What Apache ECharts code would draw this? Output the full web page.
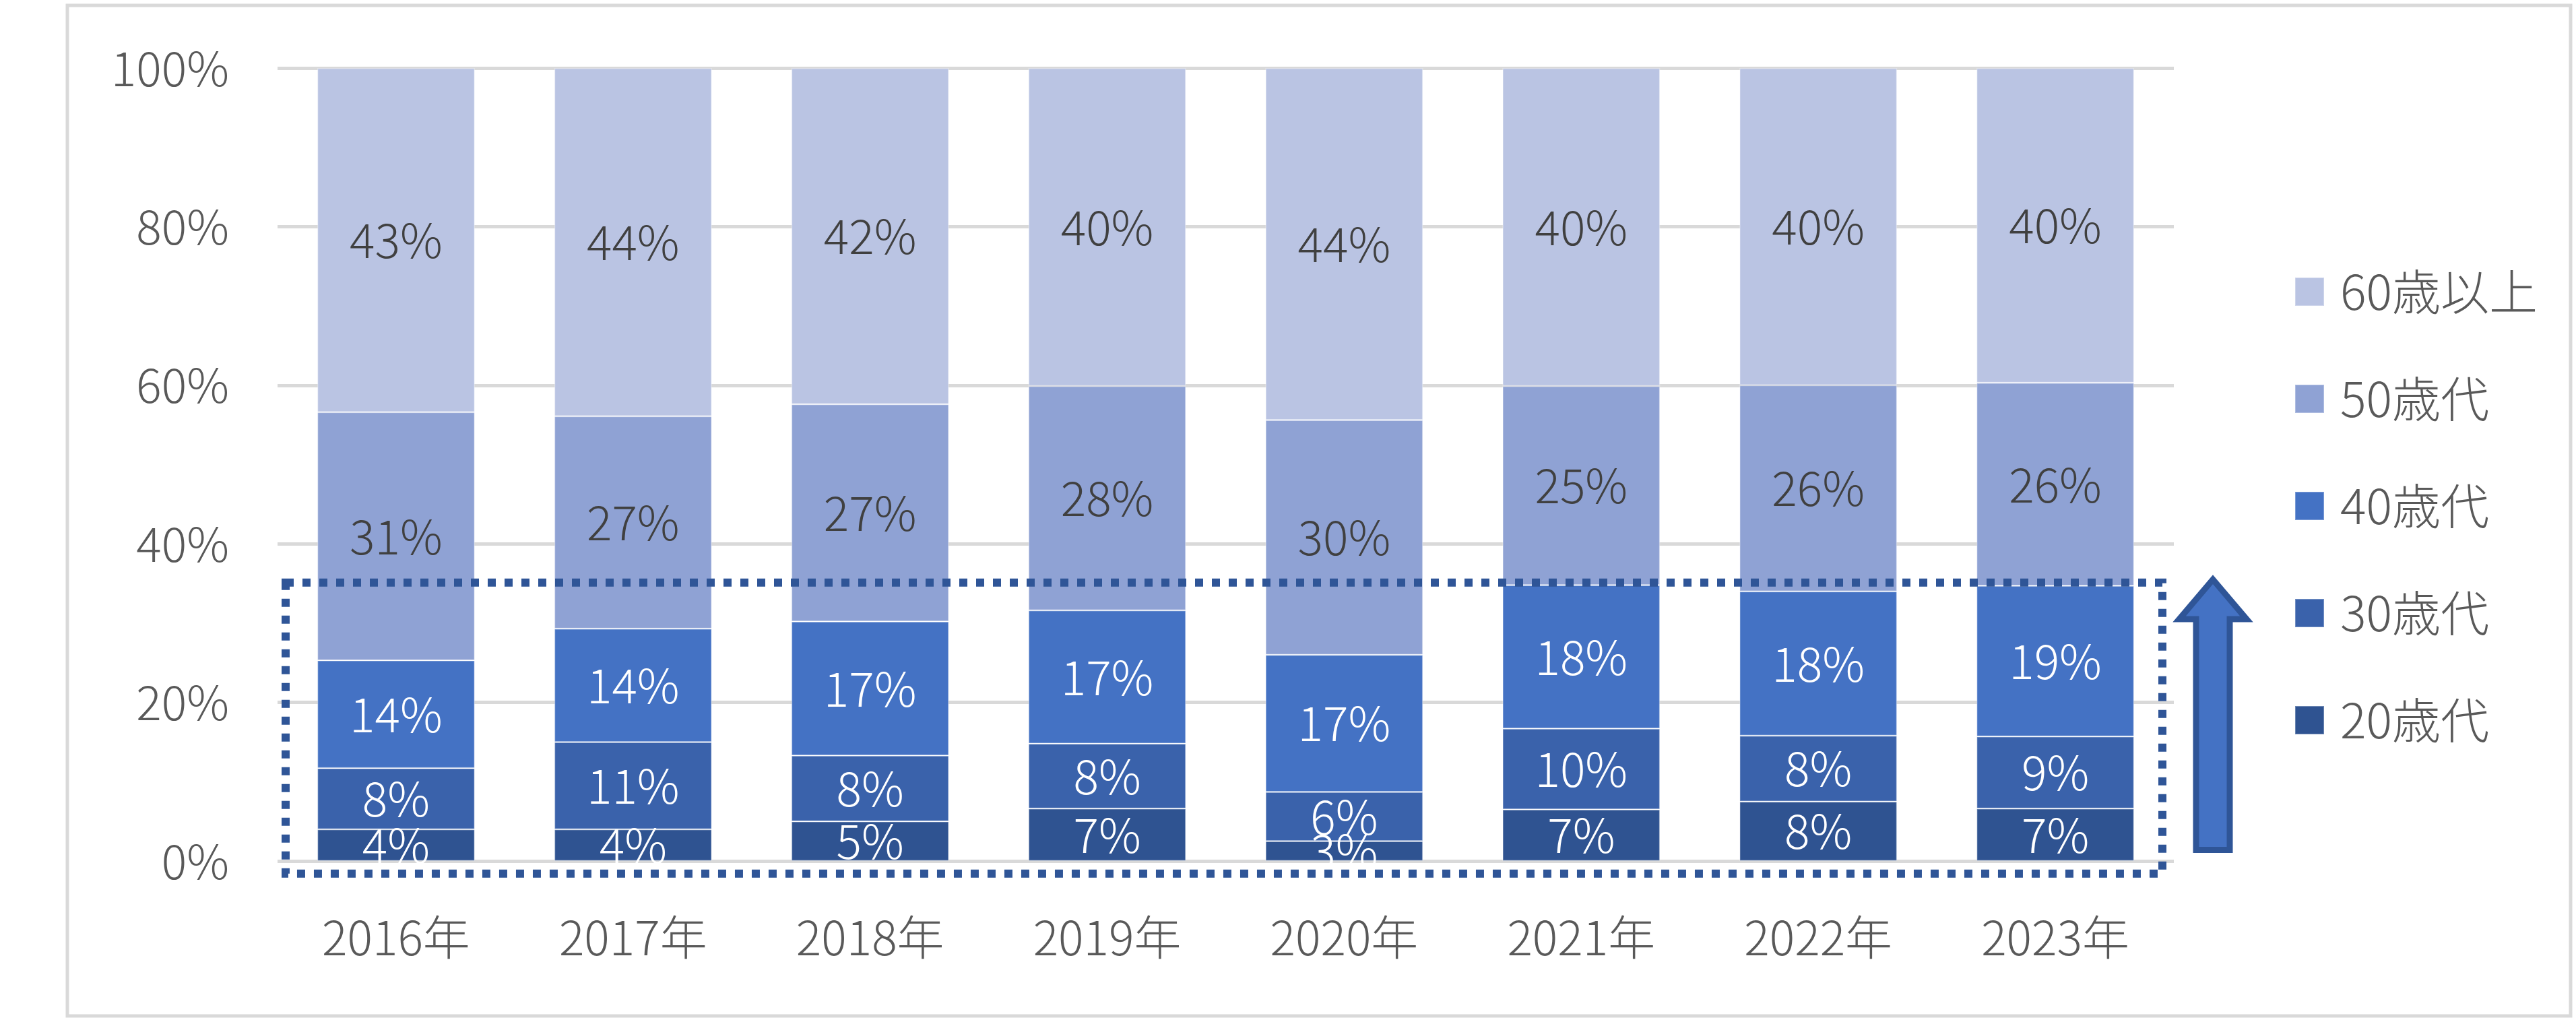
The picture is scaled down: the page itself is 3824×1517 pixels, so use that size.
<!DOCTYPE html>
<html>
<head>
<meta charset="utf-8">
<script src="https://cdn.jsdelivr.net/npm/echarts@6/dist/echarts.min.js"></script>
<style>
html,body{margin:0;padding:0;background:#fff;}
#c{width:3824px;height:1517px;}
</style>
</head>
<body>
<div id="c"></div>
<script>
const categories = ['2016年','2017年','2018年','2019年','2020年','2021年','2022年','2023年'];
const age20 = [4.0, 4.0, 5.0, 6.6, 2.5, 6.5, 7.5, 6.6];
const age30 = [7.7, 11.0, 8.3, 8.2, 6.2, 10.2, 8.3, 9.1];
const age40 = [13.6, 14.3, 16.9, 16.8, 17.3, 18.1, 18.2, 19.0];
const age50 = [31.3, 26.8, 27.4, 28.3, 29.6, 25.1, 26.0, 25.6];
const age60 = [43.4, 43.9, 42.4, 40.1, 44.4, 40.1, 40.0, 39.7];
const yTicks = [0, 20, 40, 60, 80, 100];
const seriesNames = ['20歳代','30歳代','40歳代','50歳代','60歳以上'];
const legendOrder = ['60歳以上','50歳代','40歳代','30歳代','20歳代'];
const colors = ['#2F5391','#3A62AB','#4472C4','#8FA2D4','#BAC4E3'];
const labelColors = ['#ffffff','#ffffff','#ffffff','#404040','#404040'];

const FONT = "'Noto Sans CJK JP', 'Noto Sans', sans-serif";
const FS = 70;
const dataSets = [age20, age30, age40, age50, age60];

const chart = echarts.init(document.getElementById('c'), null, {renderer:'canvas'});

const series = dataSets.map((d, i) => ({
  name: seriesNames[i],
  type: 'bar',
  stack: 'total',
  data: d,
  barWidth: 234,
  itemStyle: { color: colors[i], borderColor: 'rgba(255,255,255,0.3)', borderWidth: 1.5 },
  label: {
    show: true,
    position: 'inside',
    color: labelColors[i],
    fontFamily: FONT,
    fontSize: FS,
    fontWeight: 300,
    formatter: p => Math.round(p.value) + '%'
  },
  emphasis: { disabled: true },
  animation: false
}));

chart.setOption({
  animation: false,
  backgroundColor: '#ffffff',
  grid: { left: 412, right: 597, top: 101, bottom: 239, containLabel: false },
  legend: {
    orient: 'vertical',
    left: 3401,
    top: 392,
    data: legendOrder,
    itemWidth: 43,
    itemHeight: 42,
    itemGap: 87,
    icon: 'rect',
    selectedMode: false,
    textStyle: { color: '#595959', fontFamily: FONT, fontSize: 72, fontWeight: 300, lineHeight: 72, padding: [0,0,0,19] }
  },
  xAxis: {
    type: 'category',
    data: categories,
    axisLine: { show: false },
    axisTick: { show: false },
    axisLabel: { color: '#595959', fontFamily: FONT, fontSize: FS, fontWeight: 300, margin: 78 }
  },
  yAxis: {
    type: 'value',
    min: yTicks[0],
    max: yTicks[yTicks.length - 1],
    interval: yTicks[1] - yTicks[0],
    axisLine: { show: false },
    axisTick: { show: false },
    splitLine: { lineStyle: { color: '#D9D9D9', width: 5 } },
    axisLabel: { color: '#595959', fontFamily: FONT, fontSize: FS, fontWeight: 300, margin: 72, formatter: v => v + '%' }
  },
  series: series
});

// Annotations: dotted highlight box and upward arrow, placed from axis scale
function drawAnnotations() {
  const y35 = chart.convertToPixel({yAxisIndex: 0}, 35.1);
  const yNeg = chart.convertToPixel({yAxisIndex: 0}, -1.6);
  const gridRect = chart.getModel().getComponent('grid').coordinateSystem.getRect();
  const left = gridRect.x + 12;
  const right = gridRect.x + gridRect.width - 17;
  const ax = right + 75;           // arrow center x
  const tipY = chart.convertToPixel({yAxisIndex: 0}, 35.5);
  const headY = chart.convertToPixel({yAxisIndex: 0}, 30.5);
  const botY = chart.convertToPixel({yAxisIndex: 0}, 1.4);
  chart.setOption({
    graphic: [
      {
        type: 'rect', silent: true,
        shape: { x: 100, y: 8, width: 3716, height: 1500 },
        style: { fill: 'none', stroke: '#D9D9D9', lineWidth: 5 }
      },
      {
        type: 'rect', silent: true, z: 100,
        shape: { x: left, y: y35, width: right - left, height: yNeg - y35 },
        style: { fill: 'none', stroke: '#2F5597', lineWidth: 12, lineDash: [12, 13] }
      },
      {
        type: 'polygon', silent: true, z: 100,
        shape: { points: [
          [ax, tipY], [ax - 50, headY], [ax - 25, headY], [ax - 25, botY],
          [ax + 25, botY], [ax + 25, headY], [ax + 50, headY]
        ] },
        style: { fill: '#4472C4', stroke: '#2F5597', lineWidth: 9, lineJoin: 'miter' }
      }
    ]
  });
}
drawAnnotations();
</script>
</body>
</html>
